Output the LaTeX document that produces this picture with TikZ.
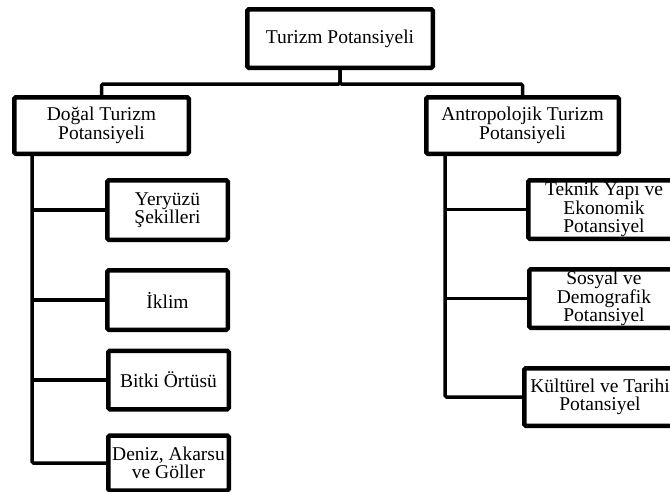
\documentclass[tikz,border=0pt]{standalone}
\usepackage{fontspec}
\setmainfont{Liberation Serif}
\usetikzlibrary{positioning}
\tikzset{
  kutu/.style={draw, line width=4.5pt, rounded corners=1.5pt, inner sep=0pt, align=center,
    font=\fontsize{19.5}{18.5}\selectfont},
  bag/.style={line width=3.5pt, rounded corners=1.5pt}
}
\begin{document}
\begin{tikzpicture}[x=1pt,y=-1pt]
            \useasboundingbox (0,0) rectangle (670,491);
            \clip (0,0) rectangle (670,491);

            \node[kutu, minimum width=185.5pt, minimum height=58.5pt] (tp) at (340,38.5) {Turizm Potansiyeli};

            \node[kutu, minimum width=174.5pt, minimum height=56.5pt] (dogal) at (101.5,125.5) {Doğal Turizm\\Potansiyeli};
            \node[kutu, minimum width=192.5pt, minimum height=56.5pt] (antro) at (522.5,125.5) {Antropolojik Turizm\\Potansiyeli};

            % dogal alt kutular
            \node[kutu, minimum width=120.5pt, minimum height=59.5pt] (yer) at (167.5,210) {Yeryüzü\\Şekilleri};
            \node[kutu, minimum width=120.5pt, minimum height=59.5pt] (iklim) at (167.5,300) {İklim};
            \node[kutu, minimum width=120.5pt, minimum height=58.5pt] (bitki) at (168.5,380) {Bitki Örtüsü};
            \node[kutu, minimum width=120.5pt, minimum height=55pt] (deniz) at (168.5,463) {Deniz, Akarsu\\ve Göller};

            % antropolojik alt kutular
            \node[kutu, minimum width=151.5pt, minimum height=58.5pt] (teknik) at (604,209.5) {Teknik Yapı ve\\Ekonomik\\Potansiyel};
            \node[kutu, minimum width=149.5pt, minimum height=58.5pt] (sosyal) at (604,298.5) {Sosyal ve\\Demografik\\Potansiyel};
            \node[kutu, minimum width=151.5pt, minimum height=57.5pt] (kultur) at (600,397) {Kültürel ve Tarihi\\Potansiyel};

            \coordinate (ls) at (32,154);
            \coordinate (rs) at (445,154);

            \draw[bag] (tp.south) -- ++(0,14) -| (dogal.north);
            \draw[bag] (tp.south) -- ++(0,14) -| (antro.north);

            \draw[bag] (ls) |- (deniz.west);
            \draw[bag] (ls |- yer.west) -- (yer.west);
            \draw[bag] (ls |- iklim.west) -- (iklim.west);
            \draw[bag] (ls |- bitki.west) -- (bitki.west);

            \draw[bag] (rs) |- (kultur.west);
            \draw[bag] (rs |- teknik.west) -- (teknik.west);
            \draw[bag] (rs |- sosyal.west) -- (sosyal.west);
          \end{tikzpicture}
\end{document}
